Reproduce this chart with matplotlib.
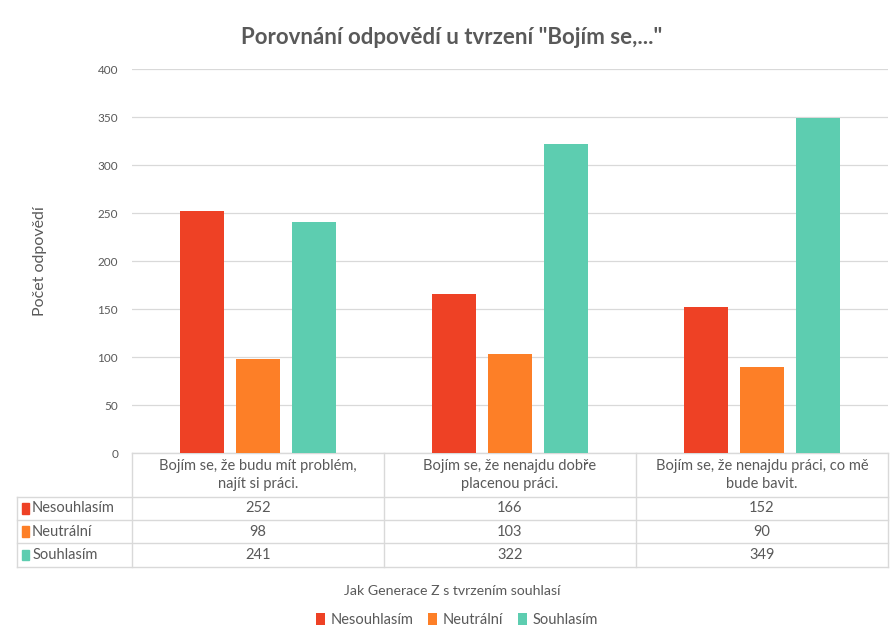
import matplotlib.pyplot as plt
import numpy as np

plt.rcParams['font.family'] = ['Lato', 'DejaVu Sans']

kategorie = ["Bojím se, že budu mít problém,\nnajít si práci.",
             "Bojím se, že nenajdu dobře\nplacenou práci.",
             "Bojím se, že nenajdu práci, co mě\nbude bavit."]
serie = ["Nesouhlasím", "Neutrální", "Souhlasím"]
nesouhlasim = [252, 166, 152]
neutralni = [98, 103, 90]
souhlasim = [241, 322, 349]
barvy = ["#EE4125", "#FD7F27", "#5DCDB0"]

hodnoty = [nesouhlasim, neutralni, souhlasim]
sedy = "#595959"
cara = "#D9D9D9"

fig = plt.figure(figsize=(8.93, 6.36), dpi=100)
ax = fig.add_axes([132/893, 1-453/636, 756/893, 384/636])

x = np.arange(len(kategorie))
w = 0.175
krok = 0.222
for i, (s, v, c) in enumerate(zip(serie, hodnoty, barvy)):
    ax.bar(x + (i-1)*krok, v, w, color=c, label=s, zorder=3)

ax.set_xlim(-0.5, 2.5)
ax.set_ylim(0, 400)
ax.set_yticks(range(0, 401, 50))
ax.tick_params(axis='y', length=0, labelsize=8.5, labelcolor=sedy, pad=10)
ax.set_xticks([])
ax.grid(axis='y', color=cara, linewidth=0.9, zorder=0)
for sp in ax.spines.values():
    sp.set_visible(False)

ax.set_ylabel("Počet odpovědí", fontsize=11.5, color=sedy, labelpad=36)
fig.text(452/893, 1-38/636, 'Porovnání odpovědí u tvrzení "Bojím se,..."',
         ha='center', va='center', fontsize=16, fontweight='bold', color=sedy)

# tabulka s daty
H = 384
radky = [0, -44/H, -67/H, -90/H, -114/H]
levy = (17-132)/756
kw = dict(transform=ax.transAxes, clip_on=False, color=cara, linewidth=1)
ax.plot([0, 1], [radky[0]]*2, **kw)
for yy in radky[1:]:
    ax.plot([levy, 1], [yy]*2, **kw)
for xx in [0, 1/3, 2/3, 1]:
    ax.plot([xx, xx], [radky[0], radky[-1]], **kw)
ax.plot([levy, levy], [radky[1], radky[-1]], **kw)

tr = ax.get_xaxis_transform()
for j, k in enumerate(kategorie):
    ax.text(x[j], (radky[0]+radky[1])/2, k, transform=tr, ha='center', va='center',
            fontsize=10.5, color=sedy, linespacing=1.35)
for i, (s, v, c) in enumerate(zip(serie, hodnoty, barvy)):
    yc = (radky[i+1]+radky[i+2])/2
    ax.text(levy + 0.02, yc, s, transform=ax.transAxes, ha='left', va='center',
            fontsize=10.5, color=sedy)
    ax.add_patch(plt.Rectangle((levy + 0.006, yc - 0.014), 0.0095, 0.028,
                               transform=ax.transAxes, color=c, clip_on=False))
    for j in range(len(kategorie)):
        ax.text(x[j], yc, str(v[j]), transform=tr, ha='center', va='center',
                fontsize=10.5, color=sedy)

fig.text(452/893, 1-591/636, "Jak Generace Z s tvrzením souhlasí",
         ha='center', va='center', fontsize=10.2, color=sedy)
fig.legend(loc='center', bbox_to_anchor=(457/893, 1-620/636), ncol=3, frameon=False,
           fontsize=10.5, handlelength=0.6, handleheight=0.9, handletextpad=0.4,
           columnspacing=1.0, labelcolor=sedy)

fig.savefig("out.png", dpi=100)
